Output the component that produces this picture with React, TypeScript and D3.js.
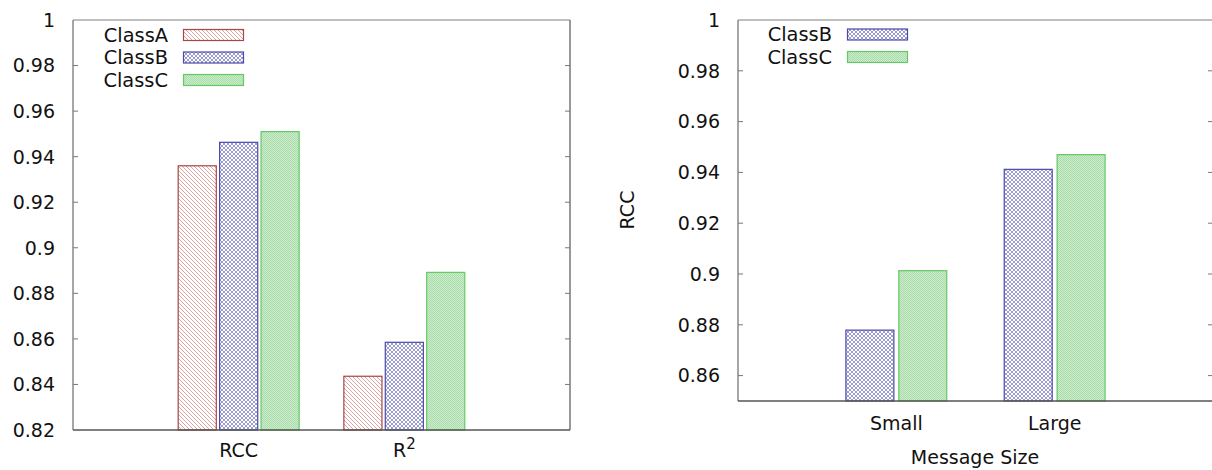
import React from "react";
import * as d3 from "d3";

// Left panel: metric groups
const metricCategories = ["RCC", "R2"];
const metricSeries = ["ClassA", "ClassB", "ClassC"];
const metricClassA = [0.936, 0.8436];
const metricClassB = [0.9463, 0.8585];
const metricClassC = [0.951, 0.8892];
const leftTicks = [0.82, 0.84, 0.86, 0.88, 0.9, 0.92, 0.94, 0.96, 0.98, 1];

// Right panel: message-size groups
const sizeCategories = ["Small", "Large"];
const sizeSeries = ["ClassB", "ClassC"];
const sizeClassB = [0.8779, 0.9412];
const sizeClassC = [0.9013, 0.947];
const rightTicks = [0.86, 0.88, 0.9, 0.92, 0.94, 0.96, 0.98, 1];

const FONT = "DejaVu Sans, Verdana, sans-serif";

const styles: Record<string, { stroke: string; fill: string }> = {
  ClassA: { stroke: "#a84545", fill: "url(#patA)" },
  ClassB: { stroke: "#4a4aa8", fill: "url(#patB)" },
  ClassC: { stroke: "#66c866", fill: "url(#patC)" },
};

function fmt(v: number) {
  return v === 1 ? "1" : String(+v.toFixed(2));
}

type PanelProps = {
  left: number;
  right: number;
  top: number;
  bottom: number;
  yDomain: [number, number];
  ticks: number[];
  categories: string[];
  series: string[];
  values: number[][];
  barWidth: number;
  barStep: number;
  legendTextX: number;
  legendY0: number;
  xLabelY: number;
};

function Panel(p: PanelProps) {
  const x = d3.scaleLinear().domain([-1, 2]).range([p.left, p.right]);
  const y = d3.scaleLinear().domain(p.yDomain).range([p.bottom, p.top]);
  const n = p.series.length;
  return (
    <g>
      {p.series.map((s, si) =>
        p.categories.map((c, ci) => {
          const cx = ci + (si - (n - 1) / 2) * p.barStep;
          const x0 = x(cx - p.barWidth / 2);
          const x1 = x(cx + p.barWidth / 2);
          const v = p.values[si][ci];
          return (
            <rect
              key={s + c}
              x={x0}
              y={y(v)}
              width={x1 - x0}
              height={y(p.yDomain[0]) - y(v)}
              fill={styles[s].fill}
              stroke={styles[s].stroke}
              strokeWidth={1.2}
            />
          );
        })
      )}
      {/* frame */}
      <line x1={p.left} x2={p.right} y1={p.top} y2={p.top} stroke="#aaa" strokeWidth={1.5} />
      <line x1={p.left} x2={p.left} y1={p.top} y2={p.bottom} stroke="#888" strokeWidth={1.5} />
      <line x1={p.right} x2={p.right} y1={p.top} y2={p.bottom} stroke="#777" strokeWidth={1.5} />
      <line x1={p.left} x2={p.right} y1={p.bottom} y2={p.bottom} stroke="#555" strokeWidth={1.5} />
      {p.ticks.map((t) => (
        <g key={t}>
          {t !== p.yDomain[0] && t !== p.yDomain[1] && (
            <>
              <line x1={p.left} x2={p.left + 5} y1={y(t)} y2={y(t)} stroke="#777" strokeWidth={1} />
              <line x1={p.right} x2={p.right - 5} y1={y(t)} y2={y(t)} stroke="#777" strokeWidth={1} />
            </>
          )}
          <text
            x={p.left - 18}
            y={y(t)}
            dy="0.36em"
            textAnchor="end"
            fontFamily={FONT}
            fontSize={19}
            fill="#111"
          >
            {fmt(t)}
          </text>
        </g>
      ))}
      {p.categories.map((c, ci) => (
        <text
          key={c}
          x={x(ci)}
          y={p.xLabelY}
          textAnchor="middle"
          fontFamily={FONT}
          fontSize={19}
          fill="#111"
        >
          {c === "R2" ? (
            <>
              R<tspan fontSize={15} dy={-8}>2</tspan>
            </>
          ) : (
            c
          )}
        </text>
      ))}
      {p.series.map((s, si) => {
        const cy = p.legendY0 + si * 22.5;
        return (
          <g key={s}>
            <text
              x={p.legendTextX}
              y={cy}
              dy="0.36em"
              textAnchor="end"
              fontFamily={FONT}
              fontSize={19.4}
              fill="#111"
            >
              {s}
            </text>
            <rect
              x={p.legendTextX + 15.5}
              y={cy - 5.5}
              width={60}
              height={11}
              fill={styles[s].fill}
              stroke={styles[s].stroke}
              strokeWidth={1.2}
            />
          </g>
        );
      })}
    </g>
  );
}

export default function App() {
  return (
    <svg
      width={1212}
      height={470}
      style={{ position: "absolute", left: 0, top: 0, background: "#fff" }}
    >
      <defs>
        <pattern id="patA" width={4} height={4} patternUnits="userSpaceOnUse">
          <rect width={4} height={4} fill="#fff" />
          <path d="M-1,-1 L5,5 M-1,3 L1,5 M3,-1 L5,1" stroke="#dba5a5" strokeWidth={1} />
        </pattern>
        <pattern id="patB" width={4} height={4} patternUnits="userSpaceOnUse">
          <rect width={4} height={4} fill="#fff" />
          <path d="M0,0 L4,4 M4,0 L0,4" stroke="#9c9cd0" strokeWidth={1} />
        </pattern>
        <pattern id="patC" width={2} height={2} patternUnits="userSpaceOnUse">
          <rect width={2} height={2} fill="#cdeccd" />
          <rect width={1} height={1} fill="#a8dca8" />
          <rect x={1} y={1} width={1} height={1} fill="#a8dca8" />
        </pattern>
      </defs>
      <Panel
        left={73}
        right={570}
        top={20}
        bottom={430}
        yDomain={[0.82, 1]}
        ticks={leftTicks}
        categories={metricCategories}
        series={metricSeries}
        values={[metricClassA, metricClassB, metricClassC]}
        barWidth={0.23}
        barStep={0.25}
        legendTextX={168}
        legendY0={35}
        xLabelY={457}
      />
      <Panel
        left={738}
        right={1213}
        top={20}
        bottom={401}
        yDomain={[0.85, 1]}
        ticks={rightTicks}
        categories={sizeCategories}
        series={sizeSeries}
        values={[sizeClassB, sizeClassC]}
        barWidth={0.303}
        barStep={0.334}
        legendTextX={832}
        legendY0={34.5}
        xLabelY={430}
      />
      <text
        transform="translate(634,210) rotate(-90)"
        textAnchor="middle"
        fontFamily={FONT}
        fontSize={19}
        fill="#111"
      >
        RCC
      </text>
      <text x={975} y={464} textAnchor="middle" fontFamily={FONT} fontSize={19} fill="#111">
        Message Size
      </text>
    </svg>
  );
}
